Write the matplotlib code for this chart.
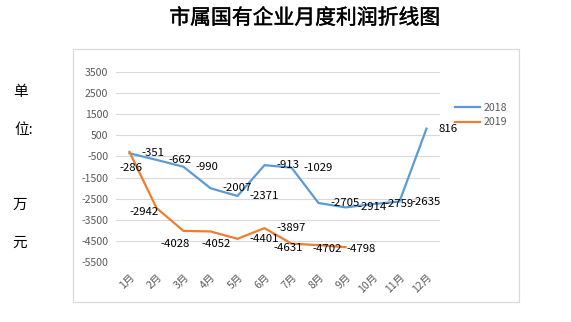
import matplotlib
matplotlib.use("Agg")
import matplotlib.pyplot as plt
import matplotlib.patheffects as pe
from matplotlib.patches import Rectangle

plt.rcParams['font.family'] = ['Noto Sans CJK SC', 'DejaVu Sans']

months = ["1月", "2月", "3月", "4月", "5月", "6月", "7月", "8月", "9月", "10月", "11月", "12月"]
profit_2018 = [-351, -662, -990, -2007, -2371, -913, -1029, -2705, -2914, -2759, -2635, 816]
profit_2019 = [-286, -2942, -4028, -4052, -4401, -3897, -4631, -4702, -4798]
yticks = [3500, 2500, 1500, 500, -500, -1500, -2500, -3500, -4500, -5500]

# label placement (ha, dx, dy in points) for each series
place_2018 = [("left", 8.6, 0)] * 12
place_2019 = [("center", 0.7, -11.5), ("right", 1.4, -2.9), ("center", -5.8, -9.4),
              ("center", 4, -9), ("left", 8.6, 0), ("left", 8.6, 0),
              ("center", -2.2, -2.9), ("center", 6.1, -2.9), ("left", 0.7, -1.4)]

W, H = 571, 322
fig = plt.figure(figsize=(W / 100, H / 100), dpi=100)

# chart border
fig.patches.append(Rectangle((73 / W, 1 - 302 / H), 446 / W, 253 / H,
                             transform=fig.transFigure, fill=False,
                             edgecolor="#D9D9D9", lw=0.9))

ax = fig.add_axes([116 / W, 1 - 262 / H, 324 / W, 190 / H])
x = list(range(len(months)))
l1, = ax.plot(x, profit_2018, color="#5B9BD5", lw=1.6, label="2018", clip_on=False, zorder=3)
l2, = ax.plot(x[:len(profit_2019)], profit_2019, color="#ED7D31", lw=1.6, label="2019",
              clip_on=False, zorder=3)

for vals, places in ((profit_2018, place_2018), (profit_2019, place_2019)):
    for i, (v, (ha, dx, dy)) in enumerate(zip(vals, places)):
        ax.annotate(str(v), (i, v), xytext=(dx, dy), textcoords="offset points",
                    ha=ha, va="center", fontsize=8.2, color="black", zorder=5,
                    annotation_clip=False)

ax.set_xlim(-0.5, 11.5)
ax.set_ylim(-5500, 3500)
ax.set_yticks(yticks)
ax.set_yticklabels([str(t) for t in yticks])
ax.set_xticks(x)
ax.set_xticklabels(months, rotation=45, ha="right", va="top", rotation_mode="anchor")
ax.tick_params(axis="y", length=0, pad=5.5, labelsize=7.6, labelcolor="#595959")
ax.tick_params(axis="x", length=0, pad=7, labelsize=7.6, labelcolor="#595959")
ax.grid(axis="y", color="#D9D9D9", lw=0.8)
ax.set_axisbelow(True)
for s in ax.spines.values():
    s.set_visible(False)

fig.legend(handles=[l1, l2], loc="center left", bbox_to_anchor=(455 / W, 1 - 115 / H),
           frameon=False, fontsize=7.6, labelcolor="#595959", handlelength=2.4,
           handletextpad=0.35, labelspacing=0.45, borderpad=0, borderaxespad=0)

fig.text(305 / W, 1 - 18 / H, "市属国有企业月度利润折线图", ha="center", va="center",
         fontsize=15, color="black",
         path_effects=[pe.withStroke(linewidth=0.3, foreground="black")])

for t, (px, py) in zip(["单", "位:", "万", "元"], [(20, 92), (24, 130), (20, 205), (20, 243)]):
    fig.text(px / W, 1 - py / H, t, ha="center", va="center", fontsize=10.5, color="black")

fig.savefig("out.png", dpi=100)
